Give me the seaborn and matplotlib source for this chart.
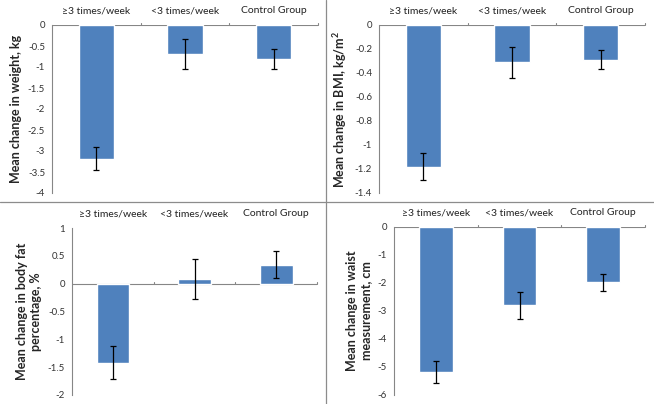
import numpy as np
import pandas as pd
import seaborn as sns
import matplotlib.pyplot as plt
from matplotlib.lines import Line2D

sns.set_style("white")
plt.rcParams['font.family'] = ['Lato', 'DejaVu Sans']
plt.rcParams['mathtext.fontset'] = 'custom'
plt.rcParams['mathtext.rm'] = 'Lato'
plt.rcParams['mathtext.bf'] = 'Lato:bold'

groups = ["≥3 times/week", "<3 times/week", "Control Group"]

weight = [-3.18, -0.69, -0.81]
weight_err = [0.28, 0.35, 0.23]

bmi = [-1.18, -0.31, -0.29]
bmi_err = [0.113, 0.13, 0.08]

bodyfat = [-1.42, 0.08, 0.34]
bodyfat_err = [0.30, 0.36, 0.24]

waist = [-5.18, -2.79, -1.98]
waist_err = [0.38, 0.48, 0.31]

bar_color = "#4F81BD"
W, H = 654, 404

fig = plt.figure(figsize=(W / 100, H / 100), dpi=100)


def px_axes(x0, y0, x1, y1):
    # pixel box -> figure fraction
    return fig.add_axes([x0 / W, 1 - y1 / H, (x1 - x0) / W, (y1 - y0) / H])


panels = [
    (px_axes(52, 25, 318, 193), weight, weight_err, (-4, 0), np.arange(-4, 0.01, 0.5),
     "Mean change in weight, kg"),
    (px_axes(379, 25, 645, 193), bmi, bmi_err, (-1.4, 0), np.arange(-1.4, 0.01, 0.2),
     "Mean change in BMI, kg/m$^\\mathbf{2}$"),
    (px_axes(72, 228, 317, 395), bodyfat, bodyfat_err, (-2, 1), np.arange(-2, 1.01, 0.5),
     "Mean change in body fat\npercentage, %"),
    (px_axes(394, 227, 645, 395), waist, waist_err, (-6, 0), np.arange(-6, 0.01, 1),
     "Mean change in waist\nmeasurement, cm"),
]

for ax, vals, errs, ylim, ticks, label in panels:
    df = pd.DataFrame({"group": groups, "value": vals})
    sns.barplot(data=df, x="group", y="value", color=bar_color, width=0.4,
                saturation=1, ax=ax)
    ax.errorbar(range(len(vals)), vals, yerr=errs, fmt="none", ecolor="black",
                elinewidth=0.9, capsize=2.5, capthick=0.9)
    ax.set_xlim(-0.5, len(vals) - 0.5)
    ax.set_ylim(*ylim)
    ax.set_yticks(ticks)
    ax.set_yticklabels([("%g" % t) if abs(t) > 1e-9 else "0" for t in ticks],
                       fontsize=7, color="#333333")
    ax.set_ylabel(label, fontsize=9, fontweight="bold", labelpad=4,
                  linespacing=1.2)
    ax.set_xlabel("")
    ax.xaxis.set_ticks_position("top")
    ax.set_xticks(range(len(vals)))
    ax.set_xticklabels(groups, fontsize=7.5, color="#222222")
    ax.tick_params(axis="x", length=0, pad=7)
    ax.tick_params(axis="y", length=3, width=0.8, color="#868686", pad=2)
    for side in ["top", "right", "bottom"]:
        ax.spines[side].set_visible(False)
    ax.spines["left"].set_color("#868686")
    ax.axhline(0, color="#868686", lw=0.8, zorder=0.5)
    for b in [0.5, 1.5, 2.5]:
        ax.plot([b, b], [0, (ylim[1] - ylim[0]) * 0.012], color="#868686",
                lw=0.8, clip_on=False)

# panel dividers
fig.add_artist(Line2D([326 / W, 326 / W], [0, 1], color="#8c8c8c", lw=0.9))
fig.add_artist(Line2D([0, 1], [1 - 202 / H, 1 - 202 / H], color="#8c8c8c", lw=0.9))

fig.savefig("out.png", dpi=100)
